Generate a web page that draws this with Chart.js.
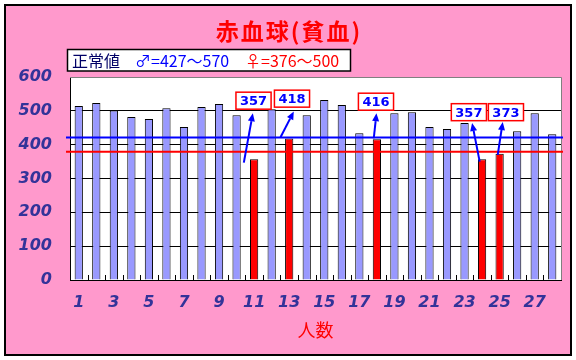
<!DOCTYPE html>
<html>
<head>
<meta charset="utf-8">
<title>赤血球(貧血)</title>
<script src="https://cdn.jsdelivr.net/npm/chart.js"></script>
<style>
 html, body { margin: 0; padding: 0; background: #ffffff; }
 #wrap { width: 576px; height: 360px; position: relative; }
</style>
</head>
<body>
<div id="wrap"><canvas id="rbc"></canvas></div>
<script>
// data
const persons = ['1','2','3','4','5','6','7','8','9','10','11','12','13','14',
                 '15','16','17','18','19','20','21','22','23','24','25','26','27','28'];
const rbcValues = [514, 523, 501, 482, 476, 508, 452, 511, 520, 487, 357, 505, 418, 487,
                   532, 517, 434, 416, 493, 496, 452, 446, 464, 357, 373, 440, 493, 431];
const refLines = [421, 379];          // blue line, red line
const yTickValues = [0, 100, 200, 300, 400, 500, 600];
const chartTitle = '赤血球(貧血)';
const xTitle = '人数';
const rangeLabels = ['正常値', '♂=427〜570', '♀=376〜500'];

// callout layout: bar index, box centre (dx px, value), arrow from / to (dx px, value)
const callouts = [
  { i: 10, box: [-0.6, 530], from: [-10.3, 347], to: [-1.3, 493] },
  { i: 12, box: [2.8, 536],  from: [-8.7, 422],  to: [4.6, 498] },
  { i: 17, box: [-0.9, 527], from: [-3.1, 419],  to: [-0.4, 493] },
  { i: 23, box: [-13.2, 496], from: [-2.4, 350], to: [-10, 464] },
  { i: 24, box: [6.3, 496],  from: [-1.9, 370],  to: [3.1, 467] }
];

const barColors = rbcValues.map(v => v < refLines[0] ? '#FF0000' : '#9999FF');
const tickColor = '#333399';

const bgPlugin = {
  id: 'bg',
  beforeDraw(chart) {
    const { ctx, chartArea: a } = chart;
    ctx.save();
    ctx.fillStyle = '#FF99CC';
    ctx.fillRect(5, 5, 566, 350);
    ctx.strokeStyle = '#000000';
    ctx.lineWidth = 2;
    ctx.strokeRect(5, 5, 566, 350);
    ctx.fillStyle = '#ffffff';
    ctx.fillRect(a.left, a.top, a.right - a.left, a.bottom - a.top);
    ctx.restore();
  }
};

function arrow(ctx, x1, y1, x2, y2) {
  const ang = Math.atan2(y2 - y1, x2 - x1);
  const len = 8, half = 3.5;
  const bx = x2 - len * Math.cos(ang), by = y2 - len * Math.sin(ang);
  ctx.beginPath();
  ctx.moveTo(x1, y1);
  ctx.lineTo(bx, by);
  ctx.stroke();
  ctx.beginPath();
  ctx.moveTo(x2, y2);
  ctx.lineTo(bx + half * Math.sin(ang), by - half * Math.cos(ang));
  ctx.lineTo(bx - half * Math.sin(ang), by + half * Math.cos(ang));
  ctx.closePath();
  ctx.fill();
}

const overlayPlugin = {
  id: 'overlay',
  afterDatasetsDraw(chart) {
    const { ctx, chartArea: a, scales: { x, y } } = chart;
    ctx.save();
    // plot frame top / right
    ctx.strokeStyle = '#808080';
    ctx.lineWidth = 1;
    ctx.beginPath();
    ctx.moveTo(a.left, a.top + 0.5);
    ctx.lineTo(a.right + 0.5, a.top + 0.5);
    ctx.lineTo(a.right + 0.5, a.bottom);
    ctx.stroke();
    // inward ticks on x axis
    ctx.strokeStyle = '#000000';
    const w = (a.right - a.left) / persons.length;
    ctx.beginPath();
    for (let i = 1; i < persons.length; i++) {
      const px = Math.round(a.left + i * w) + 0.5;
      ctx.moveTo(px, a.bottom);
      ctx.lineTo(px, a.bottom - 5);
    }
    ctx.stroke();
    // reference lines
    ['#0000FF', '#FF0000'].forEach((c, k) => {
      const py = y.getPixelForValue(refLines[k]);
      ctx.strokeStyle = c;
      ctx.lineWidth = 2;
      ctx.beginPath();
      ctx.moveTo(a.left - 4, py);
      ctx.lineTo(a.right + 2, py);
      ctx.stroke();
    });
    // callouts
    ctx.font = 'bold 13px "DejaVu Sans"';
    ctx.textAlign = 'center';
    ctx.textBaseline = 'middle';
    callouts.forEach(c => {
      const cx = x.getPixelForValue(c.i);
      ctx.strokeStyle = '#0000FF';
      ctx.fillStyle = '#0000FF';
      ctx.lineWidth = 2;
      arrow(ctx, cx + c.from[0], y.getPixelForValue(c.from[1]),
                 cx + c.to[0], y.getPixelForValue(c.to[1]));
      const label = String(rbcValues[c.i]);
      const bw = ctx.measureText(label).width + 8, bh = 17;
      const bx = cx + c.box[0], by = y.getPixelForValue(c.box[1]);
      ctx.fillStyle = '#ffffff';
      ctx.fillRect(bx - bw / 2, by - bh / 2, bw, bh);
      ctx.strokeStyle = '#FF0000';
      ctx.lineWidth = 1.5;
      ctx.strokeRect(bx - bw / 2, by - bh / 2, bw, bh);
      ctx.fillStyle = '#0000FF';
      ctx.fillText(label, bx, by + 1);
    });
    ctx.restore();
  },
  afterDraw(chart) {
    const { ctx } = chart;
    ctx.save();
    // title
    ctx.font = 'bold 23px "Noto Sans CJK JP"';
    ctx.letterSpacing = '2px';
    ctx.fillStyle = '#FF0000';
    ctx.textAlign = 'center';
    ctx.textBaseline = 'middle';
    ctx.fillText(chartTitle, 289, 31);
    ctx.letterSpacing = '0px';
    // normal range box
    ctx.fillStyle = '#ffffff';
    ctx.fillRect(67.5, 49.5, 283, 21.5);
    ctx.strokeStyle = '#000000';
    ctx.lineWidth = 1.5;
    ctx.strokeRect(67.5, 49.5, 283, 21.5);
    ctx.font = '16px "Noto Sans CJK JP"';
    ctx.textAlign = 'left';
    ctx.fillStyle = '#000066';
    ctx.fillText(rangeLabels[0], 72, 60.5);
    ctx.fillStyle = '#0000FF';
    ctx.fillText(rangeLabels[1], 135, 60.5);
    ctx.fillStyle = '#FF0000';
    ctx.fillText(rangeLabels[2], 245, 60.5);
    ctx.restore();
  }
};

new Chart(document.getElementById('rbc'), {
  type: 'bar',
  data: {
    labels: persons,
    datasets: [{
      data: rbcValues,
      backgroundColor: barColors,
      borderColor: '#000000',
      borderWidth: 1,
      borderSkipped: 'bottom',
      barPercentage: 0.47,
      categoryPercentage: 1.0
    }]
  },
  options: {
    responsive: true,
    maintainAspectRatio: false,
    animation: false,
    layout: { padding: { left: 0, right: 15, top: 77, bottom: 0 } },
    plugins: {
      legend: { display: false },
      tooltip: { enabled: false }
    },
    scales: {
      x: {
        afterFit: s => { s.height = 80; },
        grid: { display: false },
        border: { display: true, color: '#000000', width: 1 },
        ticks: {
          autoSkip: false,
          maxRotation: 0,
          padding: 5,
          color: tickColor,
          font: { family: 'DejaVu Sans', size: 16, style: 'italic', weight: 'bold' },
          callback: (v, i) => (i % 2 === 0 ? persons[i] : '')
        },
        title: {
          display: true,
          text: xTitle,
          color: '#FF0000',
          font: { family: 'Noto Sans CJK JP', size: 18 },
          padding: { top: 0, bottom: 19 }
        }
      },
      y: {
        min: 0,
        max: 600,
        afterFit: s => { s.width = 70; },
        afterBuildTicks: s => { s.ticks = yTickValues.map(v => ({ value: v })); },
        grid: {
          drawTicks: false,
          color: c => (c.tick && c.tick.value === 600 ? '#808080' : '#000000'),
          lineWidth: 1
        },
        border: { display: true, color: '#000000', width: 1 },
        ticks: {
          padding: 18,
          color: tickColor,
          font: { family: 'DejaVu Sans', size: 16, style: 'italic', weight: 'bold' }
        }
      }
    }
  },
  plugins: [bgPlugin, overlayPlugin]
});
</script>
</body>
</html>
